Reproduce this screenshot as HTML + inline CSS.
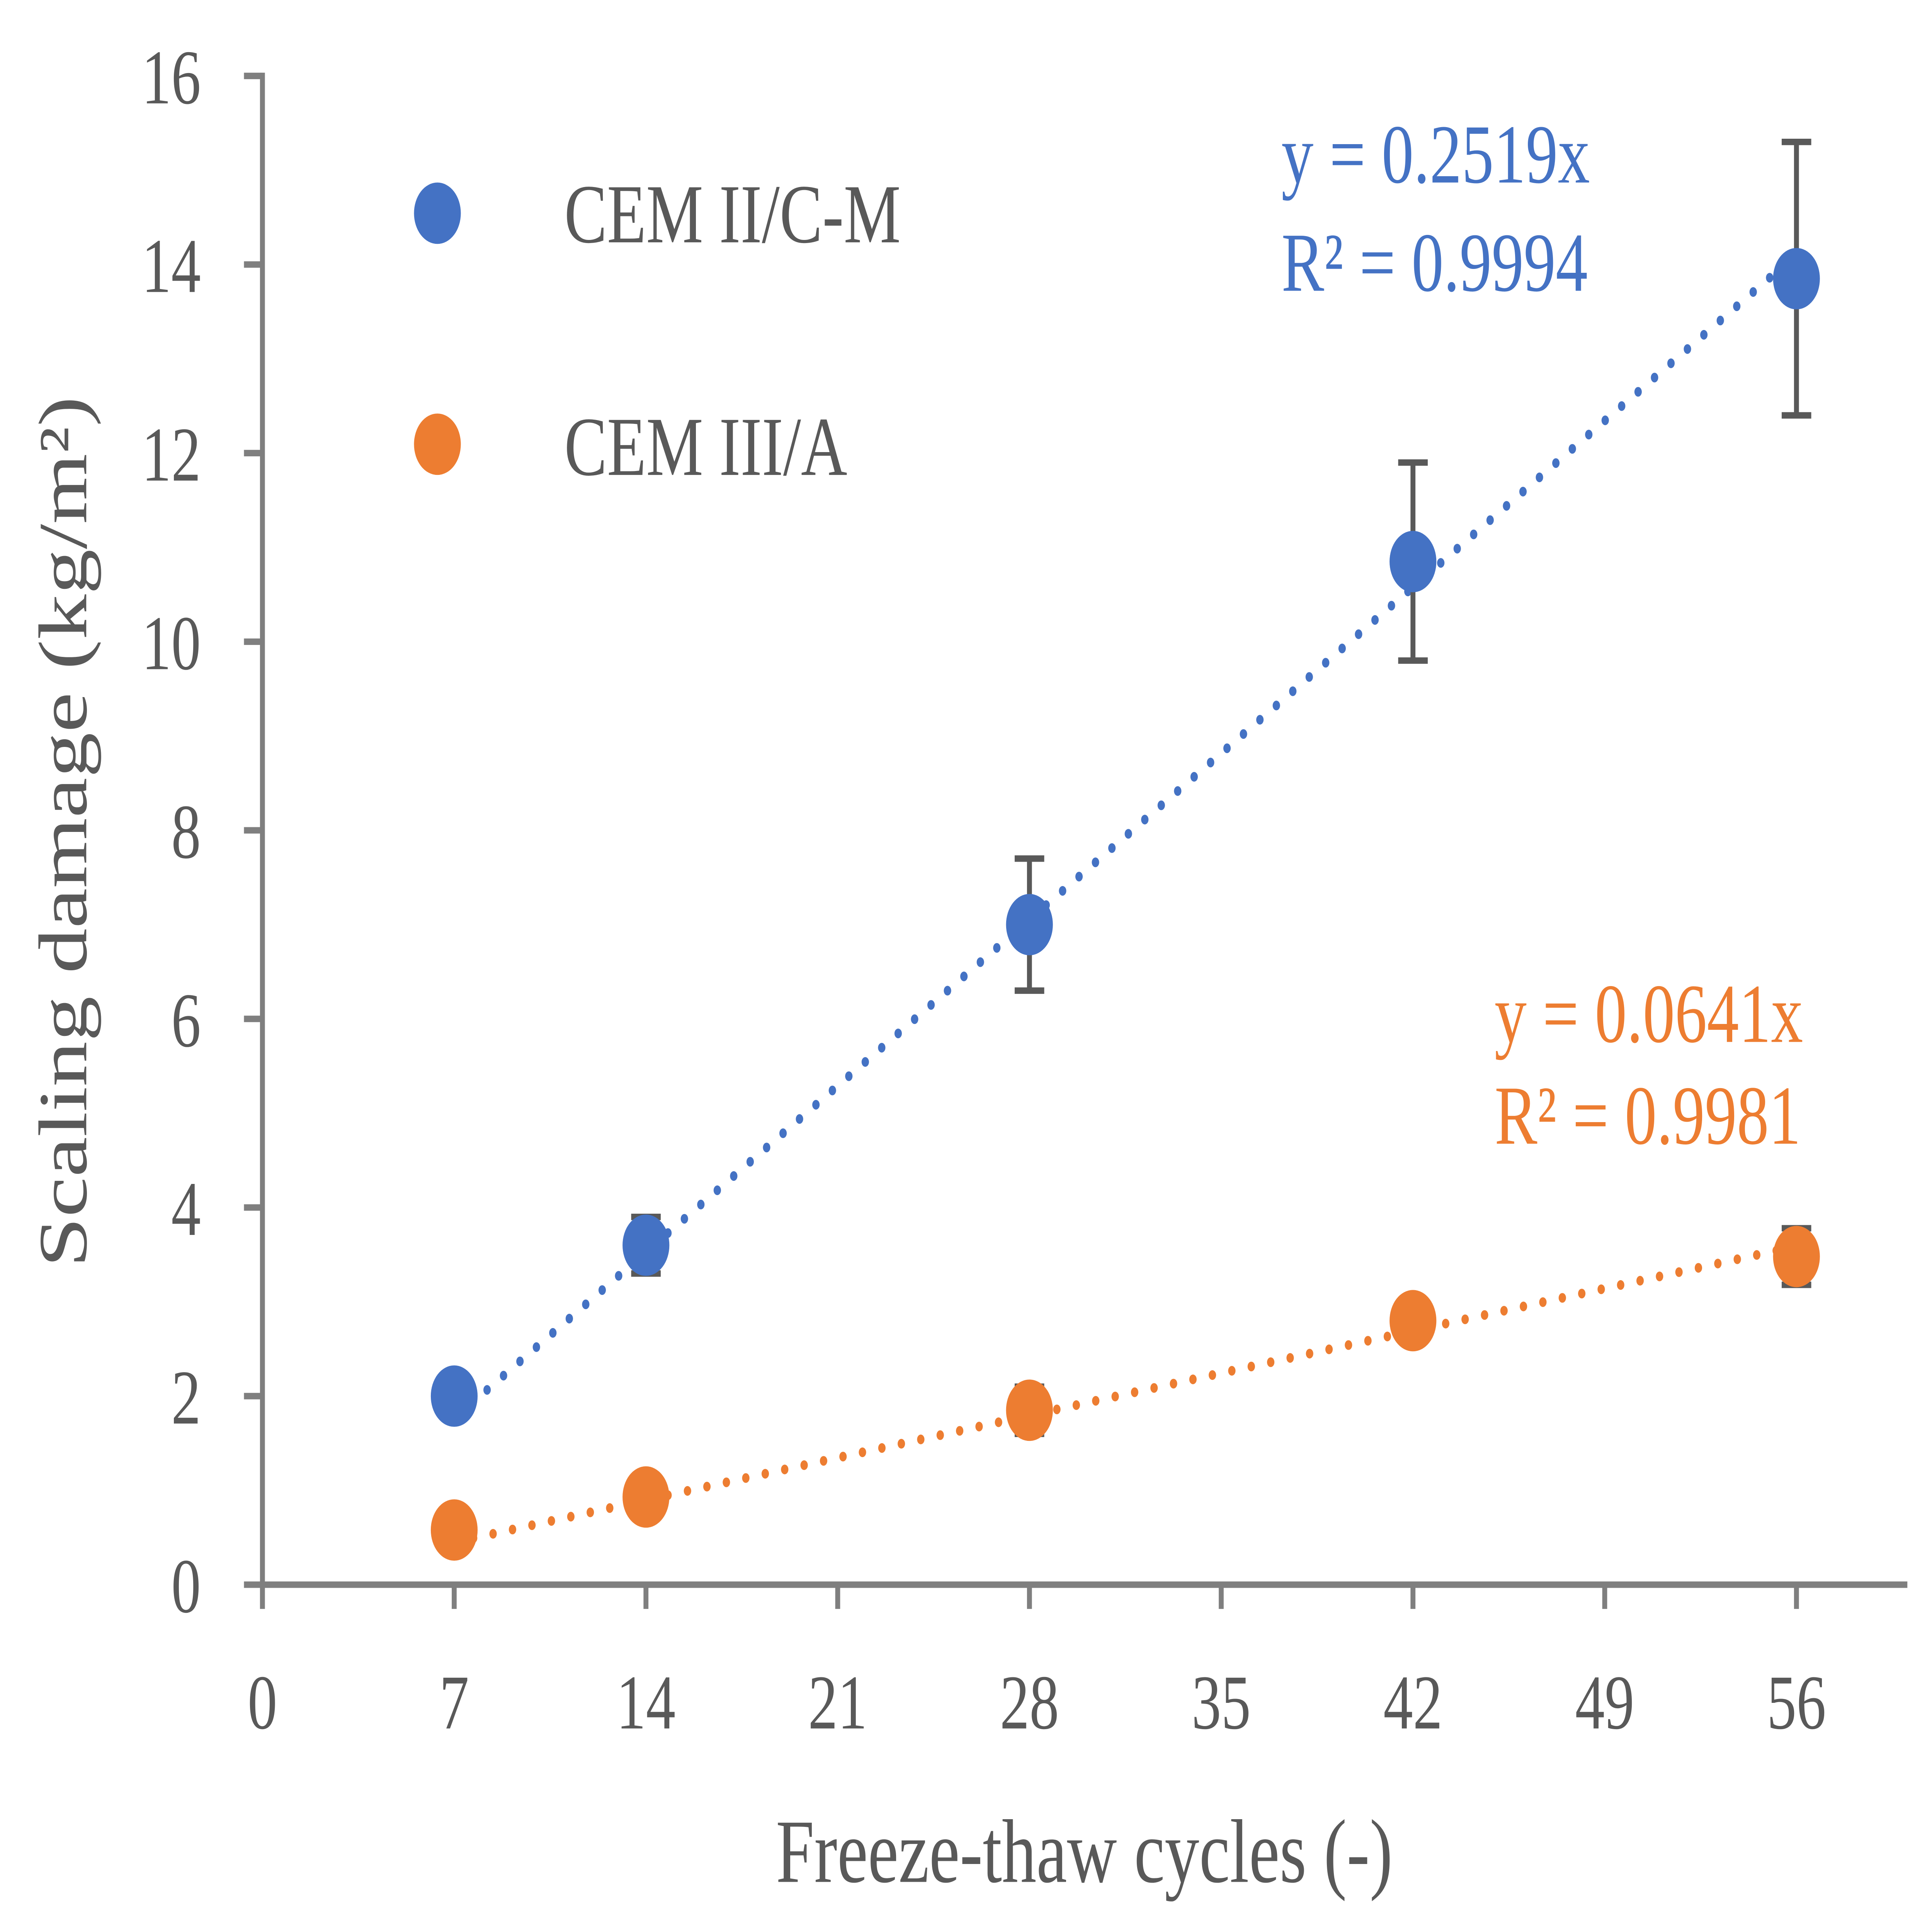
<!DOCTYPE html>
<html><head><meta charset="utf-8"><meta name="viewport" content="width=7992, initial-scale=1"><style>html,body{margin:0;padding:0;background:#fff;width:100%;height:100%;overflow:hidden}svg{display:block;width:100vw;height:100vh;position:fixed;left:0;top:0}</style></head>
<body>
<svg id="chart" viewBox="0 0 1568 1196" preserveAspectRatio="none" xmlns="http://www.w3.org/2000/svg" font-family="'Liberation Serif', serif">
<rect width="1568" height="1196" fill="#fff"/>
<g id="axes"></g>
<g id="marks"></g>
<g>
<circle cx="355" cy="132" r="19" fill="#4472c4"/>
<text x="458" y="150" font-size="52" fill="#595959">CEM II/C-M</text>
<circle cx="355" cy="275" r="19" fill="#ed7d31"/>
<text x="458" y="294" font-size="52" fill="#595959">CEM III/A</text>
</g>
<text x="1040" y="113" font-size="52" fill="#4472c4">y = 0.2519x</text>
<text x="1040" y="180" font-size="52" fill="#4472c4">R² = 0.9994</text>
<text x="1213" y="645" font-size="52" fill="#ed7d31">y = 0.0641x</text>
<text x="1213" y="708" font-size="52" fill="#ed7d31">R² = 0.9981</text>
<text x="880" y="1165" font-size="56" fill="#595959" text-anchor="middle">Freeze-thaw cycles (-)</text>
<text transform="translate(70,515) rotate(-90)" font-size="56" fill="#595959" text-anchor="middle">Scaling damage (kg/m²)</text>
</svg>
<script>
const xTicks=[0,7,14,21,28,35,42,49,56];
const yTicks=[0,2,4,6,8,10,12,14,16];
const cycles=[7,14,28,42,56];
const cem2=[2.0,3.6,7.0,10.85,13.85];
const cem2Err=[0,0.3,0.7,1.05,1.45];
const cem3=[0.58,0.93,1.85,2.8,3.48];
const cem3Err=[0,0,0.25,0,0.3];
const slope2=0.2519, slope3=0.0641;
const X=v=>213+v*(1458-213)/56;
const Y=v=>981-v*(981-47)/16;
const NS="http://www.w3.org/2000/svg";
function mk(parent,tag,attrs){const e=document.createElementNS(NS,tag);for(const k in attrs)e.setAttribute(k,attrs[k]);parent.appendChild(e);return e;}
const ax=document.getElementById('axes'), mg=document.getElementById('marks');
let e;
e=mk(ax,'line',{x1:213,y1:45,x2:213,y2:983,stroke:'#7f7f7f','stroke-width':4});


e=mk(ax,'line',{x1:211,y1:981,x2:1548,y2:981,stroke:'#7f7f7f','stroke-width':4});


yTicks.forEach(v=>{
 e=mk(ax,'line',{x1:198,y1:Y(v),x2:213,y2:Y(v),stroke:'#7f7f7f','stroke-width':4});
 
 
 e=mk(ax,'text',{x:163,y:Y(v)+17,'font-size':48,fill:'#595959','text-anchor':'end'});e.textContent=v;
 
 
});
xTicks.forEach(v=>{
 e=mk(ax,'line',{x1:X(v),y1:981,x2:X(v),y2:996,stroke:'#7f7f7f','stroke-width':4});
 
 
 e=mk(ax,'text',{x:X(v),y:1070,'font-size':48,fill:'#595959','text-anchor':'middle'});e.textContent=v;
 
 
});
function series(vals,errs,slope,color,name){
 const x0=cycles[0],x1=cycles[cycles.length-1];
 e=mk(mg,'line',{x1:X(x0),y1:Y(slope*x0),x2:X(x1),y2:Y(slope*x1),stroke:color,'stroke-width':6,'stroke-linecap':'round','stroke-dasharray':'0 16'});
 
 
 cycles.forEach((c,i)=>{
  if(errs[i]>0){
   const g=mk(mg,'g',{stroke:'#595959','stroke-width':4});
   
   
   mk(g,'line',{x1:X(c),y1:Y(vals[i]-errs[i]),x2:X(c),y2:Y(vals[i]+errs[i])});
   mk(g,'line',{x1:X(c)-12,y1:Y(vals[i]-errs[i]),x2:X(c)+12,y2:Y(vals[i]-errs[i])});
   mk(g,'line',{x1:X(c)-12,y1:Y(vals[i]+errs[i]),x2:X(c)+12,y2:Y(vals[i]+errs[i])});
  }
  e=mk(mg,'circle',{cx:X(c),cy:Y(vals[i]),r:19,fill:color});
  
  
 });
}
series(cem2,cem2Err,slope2,'#4472c4','cem-ii');
series(cem3,cem3Err,slope3,'#ed7d31','cem-iii');
</script>
</body></html>
